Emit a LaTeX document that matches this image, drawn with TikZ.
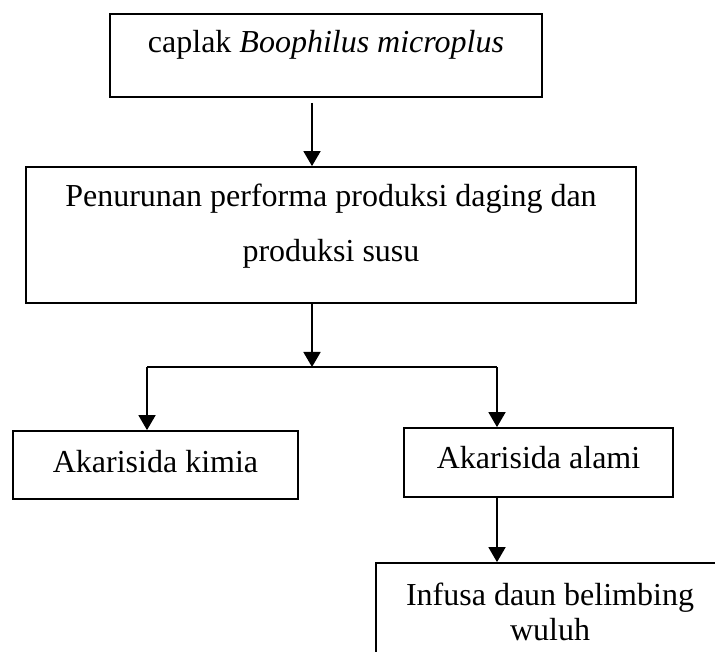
\documentclass[tikz,border=0pt]{standalone}
\usepackage{fontspec}
\setmainfont{Liberation Serif}
\usetikzlibrary{arrows.meta}

\begin{document}
\begin{tikzpicture}[x=1pt,y=-1pt,line width=1.8pt,
    kotak/.style={draw,rectangle,inner sep=0pt},
    teks/.style={anchor=base,inner sep=0pt,align=center,font=\fontsize{32}{55}\selectfont},
    panah/.style={-{Triangle[length=15pt,width=17pt]}}]
    % page frame, the last box runs past it
    \useasboundingbox (0,0) rectangle (715,652);
    \clip (0,0) rectangle (715,652);

    % boxes
    \node[kotak,minimum width=432,minimum height=83]  (caplak)    at (326,55.5)  {};
    \node[kotak,minimum width=610,minimum height=136] (penurunan) at (331,235)   {};
    \node[kotak,minimum width=285,minimum height=68]  (kimia)     at (155.5,465) {};
    \node[kotak,minimum width=269,minimum height=69]  (alami)     at (538.5,462.5) {};
    \node[kotak,minimum width=370,minimum height=140] (infusa)    at (561,633)   {};

    % texts (base of a two-line text is its last line)
    \node[teks] (caplakteks)    at (326,53)    {caplak \textit{Boophilus microplus}};
    \node[teks] (penurunanteks) at (331,262)   {Penurunan performa produksi daging dan\\produksi susu};
    \node[teks] (kimiateks)     at (155.5,472) {Akarisida kimia};
    \node[teks] (alamiteks)     at (538.5,468) {Akarisida alami};
    \node[teks,font=\fontsize{32}{35}\selectfont] (infusateks) at (550,640) {Infusa daun belimbing\\wuluh};

    % connectors
    \coordinate (atas)   at (312,103);
    \coordinate (cabang) at (312,367);
    \coordinate (kiri)   at (147,367);
    \coordinate (kanan)  at (497,367);

    \draw[panah] (atas) -- (atas |- penurunan.north);
    \draw[panah] (cabang |- penurunan.south) -- (cabang);
    \draw (kiri) -- (kanan);
    \draw[panah] (kiri) -- (kiri |- kimia.north);
    \draw[panah] (kanan) -- (kanan |- alami.north);
    \draw[panah] (kanan |- alami.south) -- (kanan |- infusa.north);
\end{tikzpicture}
\end{document}
